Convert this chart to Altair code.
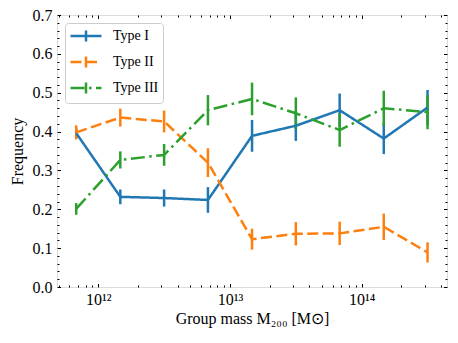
import altair as alt
import pandas as pd

# ---- data ----
mass = [6.8e11, 1.47e12, 3.16e12, 6.8e12, 1.47e13, 3.16e13, 6.8e13, 1.47e14, 3.16e14]
type1 = [0.396, 0.232, 0.229, 0.224, 0.389, 0.415, 0.455, 0.382, 0.462]
type1_err = [0.012, 0.019, 0.022, 0.033, 0.041, 0.039, 0.043, 0.040, 0.045]
type2 = [0.398, 0.436, 0.426, 0.320, 0.123, 0.137, 0.138, 0.155, 0.089]
type2_err = [0.018, 0.023, 0.028, 0.037, 0.027, 0.030, 0.030, 0.034, 0.026]
type3 = [0.201, 0.327, 0.340, 0.455, 0.484, 0.447, 0.404, 0.460, 0.450]
type3_err = [0.015, 0.022, 0.028, 0.039, 0.042, 0.041, 0.043, 0.045, 0.044]
series = ["Type I", "Type II", "Type III"]
colors = ["#1f77b4", "#ff7f0e", "#2ca02c"]
dashes = [[1, 0], [11, 4.5], [14, 4.5, 2.5, 4.5]]

x_domain = [4.86e11, 4.44e14]
y_domain = [0, 0.7]
x_major = [1e12, 1e13, 1e14]
y_major = [i / 10 for i in range(8)]

rows = []
for name, vals, errs in zip(series, [type1, type2, type3], [type1_err, type2_err, type3_err]):
    for m, v, e in zip(mass, vals, errs):
        rows.append({"mass": m, "freq": v, "lo": v - e, "hi": v + e, "series": name})
df = pd.DataFrame(rows)

x_ticks = [m * 10 ** e for e in range(11, 15) for m in range(1, 10)
           if x_domain[0] <= m * 10 ** e <= x_domain[1]]
y_ticks = [round(i * 0.02, 2) for i in range(36)]

FONT = "Liberation Serif"
W, H = 390, 272

xscale = alt.Scale(type="log", domain=x_domain, nice=False)
yscale = alt.Scale(domain=y_domain, nice=False, zero=False)

legend = alt.Legend(
    title=None, orient="none", legendX=8, legendY=8,
    symbolType="M-2,0H2M0,-0.7V0.7", symbolSize=240, symbolStrokeWidth=2.5,
    symbolOffset=8, labelOffset=18, padding=4, rowPadding=4,
    labelFont=FONT, labelFontSize=14, labelColor="black",
    strokeColor="#cccccc", cornerRadius=3, fillColor="rgba(255,255,255,0.8)",
)
color = alt.Color("series:N", scale=alt.Scale(domain=series, range=colors), legend=legend)
dash = alt.StrokeDash("series:N", scale=alt.Scale(domain=series, range=dashes), legend=legend)

x_major_test = "abs(log(datum.value)/LN10 - round(log(datum.value)/LN10)) < 0.001"
y_major_test = "abs(datum.value*10 - round(datum.value*10)) < 0.001"
x_tick_size = {"condition": {"test": x_major_test, "value": 3.5}, "value": 2}
y_tick_size = {"condition": {"test": y_major_test, "value": 3.5}, "value": 2}

sup = ("'10' + replace(replace(replace(replace(format(round(log(datum.value)/LN10),'d'),"
       "'1','\u00b9'),'2','\u00b2'),'3','\u00b3'),'4','\u2074')")

# labelled axes (no ticks)
x_lab = alt.Axis(orient="bottom", values=x_major, ticks=False, tickSize=0, domain=False,
                 grid=False, labelExpr=sup, labelFont=FONT, labelFontSize=16,
                 labelColor="black", labelPadding=4,
                 title="Group mass M\u2082\u2080\u2080 [M\u2299]", titleFont=FONT,
                 titleFontSize=16, titleFontWeight="normal", titleColor="black",
                 titlePadding=3)
y_lab = alt.Axis(orient="left", values=y_major, format=".1f", ticks=False, tickSize=0,
                 domain=False, grid=False, labelFont=FONT, labelFontSize=16,
                 labelColor="black", labelPadding=5, title="Frequency", titleFont=FONT,
                 titleFontSize=16, titleFontWeight="normal", titleColor="black",
                 titlePadding=7)


def tick_axis(orient, values, size, offset):
    return alt.Axis(orient=orient, values=values, offset=offset, labels=False,
                    domain=False, grid=False, title=None, tickSize=size,
                    tickColor="black", tickWidth=1)


rules = alt.Chart(df).mark_rule(strokeWidth=2.5).encode(
    x=alt.X("mass:Q", scale=xscale, axis=x_lab),
    y=alt.Y("lo:Q", scale=yscale, axis=y_lab),
    y2="hi:Q",
    color=color,
)

lines = alt.Chart(df).mark_line(strokeWidth=2.5, strokeJoin="round").encode(
    x=alt.X("mass:Q", scale=xscale, axis=tick_axis("top", x_ticks, x_tick_size, -H)),
    y=alt.Y("freq:Q", scale=yscale, axis=tick_axis("right", y_ticks, y_tick_size, -W)),
    color=color,
    strokeDash=dash,
)

ghost = alt.Chart(df).mark_point(opacity=0).encode(
    x=alt.X("mass:Q", scale=xscale, axis=tick_axis("bottom", x_ticks, x_tick_size, -H)),
    y=alt.Y("freq:Q", scale=yscale, axis=tick_axis("left", y_ticks, y_tick_size, -W)),
)

chart = (
    alt.layer(rules, lines, ghost)
    .resolve_axis(x="independent", y="independent")
    .properties(width=W, height=H, autosize=alt.AutoSizeParams(type="none"),
                padding={"left": 49, "top": 7, "right": 3, "bottom": 48})
    .configure_view(stroke="black", strokeWidth=1, fill="white")
    .configure(background="white")
)

chart.save("out.html", embed_options={"renderer": "svg", "actions": False})
